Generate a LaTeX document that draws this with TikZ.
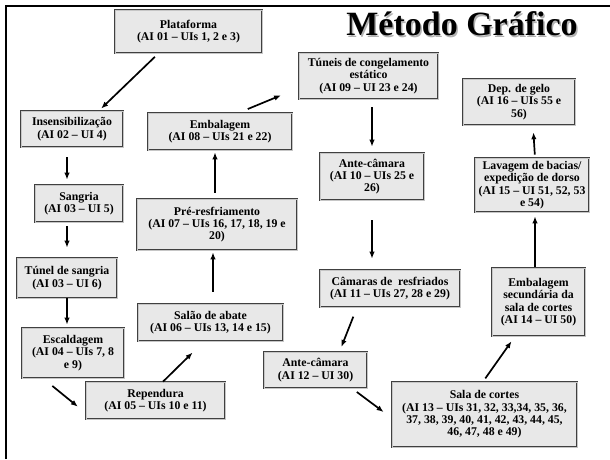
\documentclass[tikz,border=0pt]{standalone}
\usepackage{fontspec}
\setmainfont{Liberation Serif}
\usetikzlibrary{arrows.meta}
\definecolor{caixa}{rgb}{0.91, 0.91, 0.91}

\begin{document}
\begin{tikzpicture}[x=1pt,y=-1pt,
  etapa/.style={draw=black!75,double=gray!45,double distance=1pt,line width=0.7pt,
    fill=caixa,align=center,inner sep=1pt,
    font=\bfseries\fontsize{11.8}{12.4}\selectfont},
  seta/.style={-{Latex[length=7pt,width=5.5pt]},line width=1.7pt}]
  \useasboundingbox (0,0) rectangle (610,459);
  \draw[line width=1.5pt] (6,459) -- (6,6) -- (610,6);
  \node[text=gray!60,font=\bfseries\fontsize{34}{36}\selectfont] (sombra) at (463.5,25.5) {Método Gráfico};
  \node[font=\bfseries\fontsize{34}{36}\selectfont] (titulo) at (462,24) {Método Gráfico};
  \node[etapa,minimum width=147pt,minimum height=43pt] (plat) at (188.5,31.5) {Plataforma\\(AI 01 – UIs 1, 2 e 3)};
  \node[etapa,minimum width=102pt,minimum height=36pt] (insens) at (72,129) {Insensibilização\\(AI 02 – UI 4)};
  \node[etapa,minimum width=88pt,minimum height=37pt] (sangria) at (79,203.5) {Sangria\\(AI 03 – UI 5)};
  \node[etapa,minimum width=100pt,minimum height=40pt] (tsang) at (67,278) {Túnel de sangria\\(AI 03 – UI 6)};
  \node[etapa,minimum width=102pt,minimum height=50pt] (escald) at (73,353) {Escaldagem\\(AI 04 – UIs 7, 8\\e 9)};
  \node[etapa,minimum width=139pt,minimum height=37pt] (rep) at (155.5,400.5) {Rependura\\(AI 05 – UIs 10 e 11)};
  \node[etapa,minimum width=145pt,minimum height=37pt] (salao) at (210.5,322.5) {Salão de abate\\(AI 06 – UIs 13, 14 e 15)};
  \node[etapa,minimum width=160pt,minimum height=51pt] (pre) at (217,224.5) {Pré-resfriamento\\(AI 07 – UIs 16, 17, 18, 19 e\\20)};
  \node[etapa,minimum width=144pt,minimum height=37pt] (emb) at (220,131.5) {Embalagem\\(AI 08 – UIs 21 e 22)};
  \node[etapa,minimum width=139pt,minimum height=46pt] (tuneis) at (368.5,76) {Túneis de congelamento\\estático\\(AI 09 – UI 23 e 24)};
  \node[etapa,minimum width=104pt,minimum height=47pt] (ante1) at (372,176.5) {Ante-câmara\\(AI 10 – UIs 25 e\\26)};
  \node[etapa,minimum width=140pt,minimum height=37pt] (camaras) at (390,288.5) {Câmaras de \ resfriados\\(AI 11 – UIs 27, 28 e 29)};
  \node[etapa,minimum width=103pt,minimum height=36pt] (ante2) at (315.5,370) {Ante-câmara\\(AI 12 – UI 30)};
  \node[etapa,minimum width=185pt,minimum height=65pt] (sala) at (484.5,414.5) {Sala de cortes\\(AI 13 – UIs 31, 32, 33,34, 35, 36,\\37, 38, 39, 40, 41, 42, 43, 44, 45,\\46, 47, 48 e 49)};
  \node[etapa,minimum width=93pt,minimum height=68pt] (embsec) at (538.5,302) {Embalagem\\secundária da\\sala de cortes\\(AI 14 – UI 50)};
  \node[etapa,minimum width=114pt,minimum height=54pt] (lavagem) at (532,185) {Lavagem de bacias/\\expedição de dorso\\(AI 15 – UI 51, 52, 53\\e 54)};
  \node[etapa,minimum width=112pt,minimum height=46pt] (gelo) at (519,102) {Dep. de gelo\\(AI 16 – UIs 55 e\\56)};
  \draw[seta,shorten <=5pt,shorten >=3pt] ([xshift=-30pt]plat.south) -- ([xshift=27pt]insens.north);
  \draw[seta,shorten <=10pt,shorten >=5pt] ([xshift=-5pt]insens.south) -- ([xshift=-12pt]sangria.north);
  \draw[seta,shorten <=4pt,shorten >=10pt] ([xshift=-12pt]sangria.south) -- (tsang.north);
  \draw[seta,shorten >=3pt] (tsang.south) -- ([xshift=-6pt]escald.north);
  \draw[seta,shorten <=12pt,shorten >=10pt] ([xshift=-30pt]escald.south) -- ([yshift=-12.5pt]rep.west);
  \draw[seta,shorten >=16pt] ([xshift=7.5pt]rep.north) -- ([xshift=-6.5pt]salao.south);
  \draw[seta,shorten <=12pt,shorten >=2pt] ([xshift=2.5pt]salao.north) -- ([xshift=-4pt]pre.south);
  \draw[seta,shorten <=6pt,shorten >=2pt] ([xshift=-2pt]pre.north) -- ([xshift=-5pt]emb.south);
  \draw[seta,shorten <=9.5pt,shorten >=19pt] ([xshift=19pt]emb.north) -- ([yshift=-12pt]tuneis.west);
  \draw[seta,shorten <=8pt,shorten >=6pt] ([xshift=3.5pt]tuneis.south) -- (ante1.north);
  \draw[seta,shorten <=20pt,shorten >=11pt] (ante1.south) -- ([xshift=-18pt]camaras.north);
  \draw[seta,shorten <=10pt,shorten >=5pt] ([xshift=-33pt]camaras.south) -- ([xshift=24pt]ante2.north);
  \draw[seta,shorten <=6pt,shorten >=10pt] ([xshift=36.5pt]ante2.south) -- ([yshift=-3.5pt]sala.west);
  \draw[seta,shorten <=4pt,shorten >=6pt] ([xshift=-1.5pt]sala.north) -- ([xshift=-23.5pt]embsec.south);
  \draw[seta,shorten <=1pt,shorten >=4pt] ([xshift=-3.5pt]embsec.north) -- ([xshift=3pt]lavagem.south);
  \draw[seta,shorten <=3pt,shorten >=7pt] ([xshift=3pt]lavagem.north) -- ([xshift=14pt]gelo.south);
\end{tikzpicture}
\end{document}
